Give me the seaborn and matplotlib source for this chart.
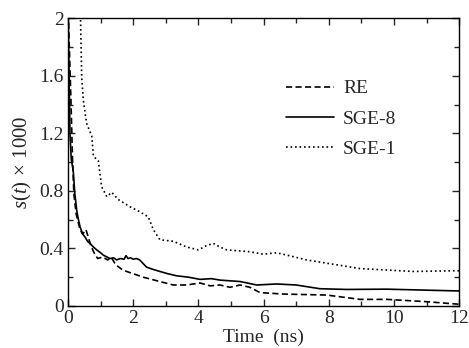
import numpy as np
import pandas as pd
import matplotlib
matplotlib.use("Agg")
import matplotlib.pyplot as plt
import seaborn as sns
from matplotlib.ticker import MultipleLocator

# values (time in ns, s(t) x 1000)
t_re = [0.0, 0.09, 0.14, 0.18, 0.25, 0.37, 0.45, 0.55, 0.62, 0.7, 0.8, 0.91, 1.06, 1.22,
        1.32, 1.47, 1.68, 1.8, 2.31, 2.82, 3.23, 3.64, 4.05, 4.36, 4.66, 4.97, 5.28, 5.58,
        5.89, 6.6, 7.94, 8.96, 9.78, 11.0, 11.9, 12.0]
s_re = [2.1, 1.43, 1.01, 0.78, 0.64, 0.53, 0.5, 0.53, 0.48, 0.42, 0.37, 0.33, 0.34, 0.32,
        0.34, 0.285, 0.25, 0.24, 0.20, 0.17, 0.146, 0.146, 0.16, 0.14, 0.146, 0.13, 0.146,
        0.13, 0.093, 0.083, 0.076, 0.046, 0.046, 0.03, 0.014, 0.012]

t_sge8 = [0.0, 0.06, 0.1, 0.16, 0.21, 0.27, 0.32, 0.37, 0.45, 0.52, 0.6, 0.67, 0.78, 0.88,
          1.0, 1.08, 1.2, 1.29, 1.4, 1.49, 1.6, 1.72, 1.78, 1.84, 1.92, 2.0, 2.1, 2.2, 2.41,
          2.6, 2.82, 3.05, 3.33, 3.7, 4.05, 4.4, 4.66, 5.28, 5.79, 6.4, 7.0, 7.73, 8.55, 9.78,
          11.0, 11.9, 12.0]
s_sge8 = [2.1, 1.2, 1.02, 0.94, 0.78, 0.66, 0.6, 0.55, 0.5, 0.48, 0.45, 0.435, 0.41, 0.39,
          0.37, 0.354, 0.34, 0.33, 0.335, 0.32, 0.33, 0.325, 0.35, 0.33, 0.335, 0.325, 0.33,
          0.32, 0.27, 0.255, 0.24, 0.225, 0.21, 0.2, 0.185, 0.19, 0.18, 0.17, 0.146, 0.153,
          0.146, 0.12, 0.115, 0.117, 0.11, 0.105, 0.105]

t_sge1 = [0.38, 0.42, 0.47, 0.57, 0.73, 0.78, 0.93, 1.03, 1.19, 1.34, 1.54, 1.9, 2.2, 2.46,
          2.62, 2.82, 3.23, 3.64, 4.0, 4.25, 4.46, 4.66, 4.87, 5.58, 5.99, 6.4, 6.91, 7.32,
          8.14, 8.96, 9.78, 10.6, 11.9, 12.0]
s_sge1 = [2.05, 1.59, 1.43, 1.27, 1.18, 1.04, 1.01, 0.83, 0.76, 0.79, 0.74, 0.69, 0.655, 0.62,
          0.53, 0.46, 0.45, 0.41, 0.39, 0.42, 0.435, 0.41, 0.39, 0.377, 0.36, 0.37, 0.343, 0.32,
          0.29, 0.26, 0.25, 0.24, 0.245, 0.245]

sns.set_style("ticks")
plt.rcParams["font.family"] = ["Liberation Serif", "DejaVu Serif"]
plt.rcParams["mathtext.fontset"] = "custom"
plt.rcParams["mathtext.rm"] = "Liberation Serif"
plt.rcParams["mathtext.it"] = "Liberation Serif:italic"

fig = plt.figure(figsize=(4.69, 3.48), dpi=100)
ax = fig.add_axes([0.145, 0.1207, 0.834, 0.827])

sns.lineplot(x=t_re, y=s_re, ax=ax, color="black", lw=1.2, label="RE",
             linestyle=(0, (3.7, 2.0)), sort=False)
sns.lineplot(x=t_sge8, y=s_sge8, ax=ax, color="black", lw=1.2, label="SGE-8",
             linestyle="-", sort=False)
sns.lineplot(x=t_sge1, y=s_sge1, ax=ax, color="black", lw=1.2, label="SGE-1",
             linestyle=(0, (1, 1.7)), sort=False)

ax.set_xlim(0, 12)
ax.set_ylim(0, 2)
ax.xaxis.set_minor_locator(MultipleLocator(1))
ax.yaxis.set_minor_locator(MultipleLocator(0.2))
ax.set_yticks([0, 0.4, 0.8, 1.2, 1.6, 2.0])
ax.set_yticklabels(["0", "0.4", "0.8", "1.2", "1.6", "2"])
ax.set_xticks([0, 2, 4, 6, 8, 10, 12])
ax.set_xticklabels(["0", "2", "4", "6", "8", "10", "12"])

ax.tick_params(which="both", direction="in", top=True, right=True, labelsize=14,
               width=1, pad=3)
ax.tick_params(which="major", length=5)
ax.tick_params(which="minor", length=3.5)
for sp in ax.spines.values():
    sp.set_linewidth(1)
    sp.set_color("black")

ax.set_xlabel("Time  (ns)", fontsize=14, labelpad=1)
ax.set_ylabel(r"$s(t)\,\times\,\mathrm{1000}$", fontsize=15, labelpad=4)

ax.legend(loc="upper left", bbox_to_anchor=(0.517, 0.84), frameon=False, fontsize=14,
          handlelength=2.5, handletextpad=0.45, labelspacing=0.65, borderpad=0.3)

fig.savefig("out.png", dpi=100)
